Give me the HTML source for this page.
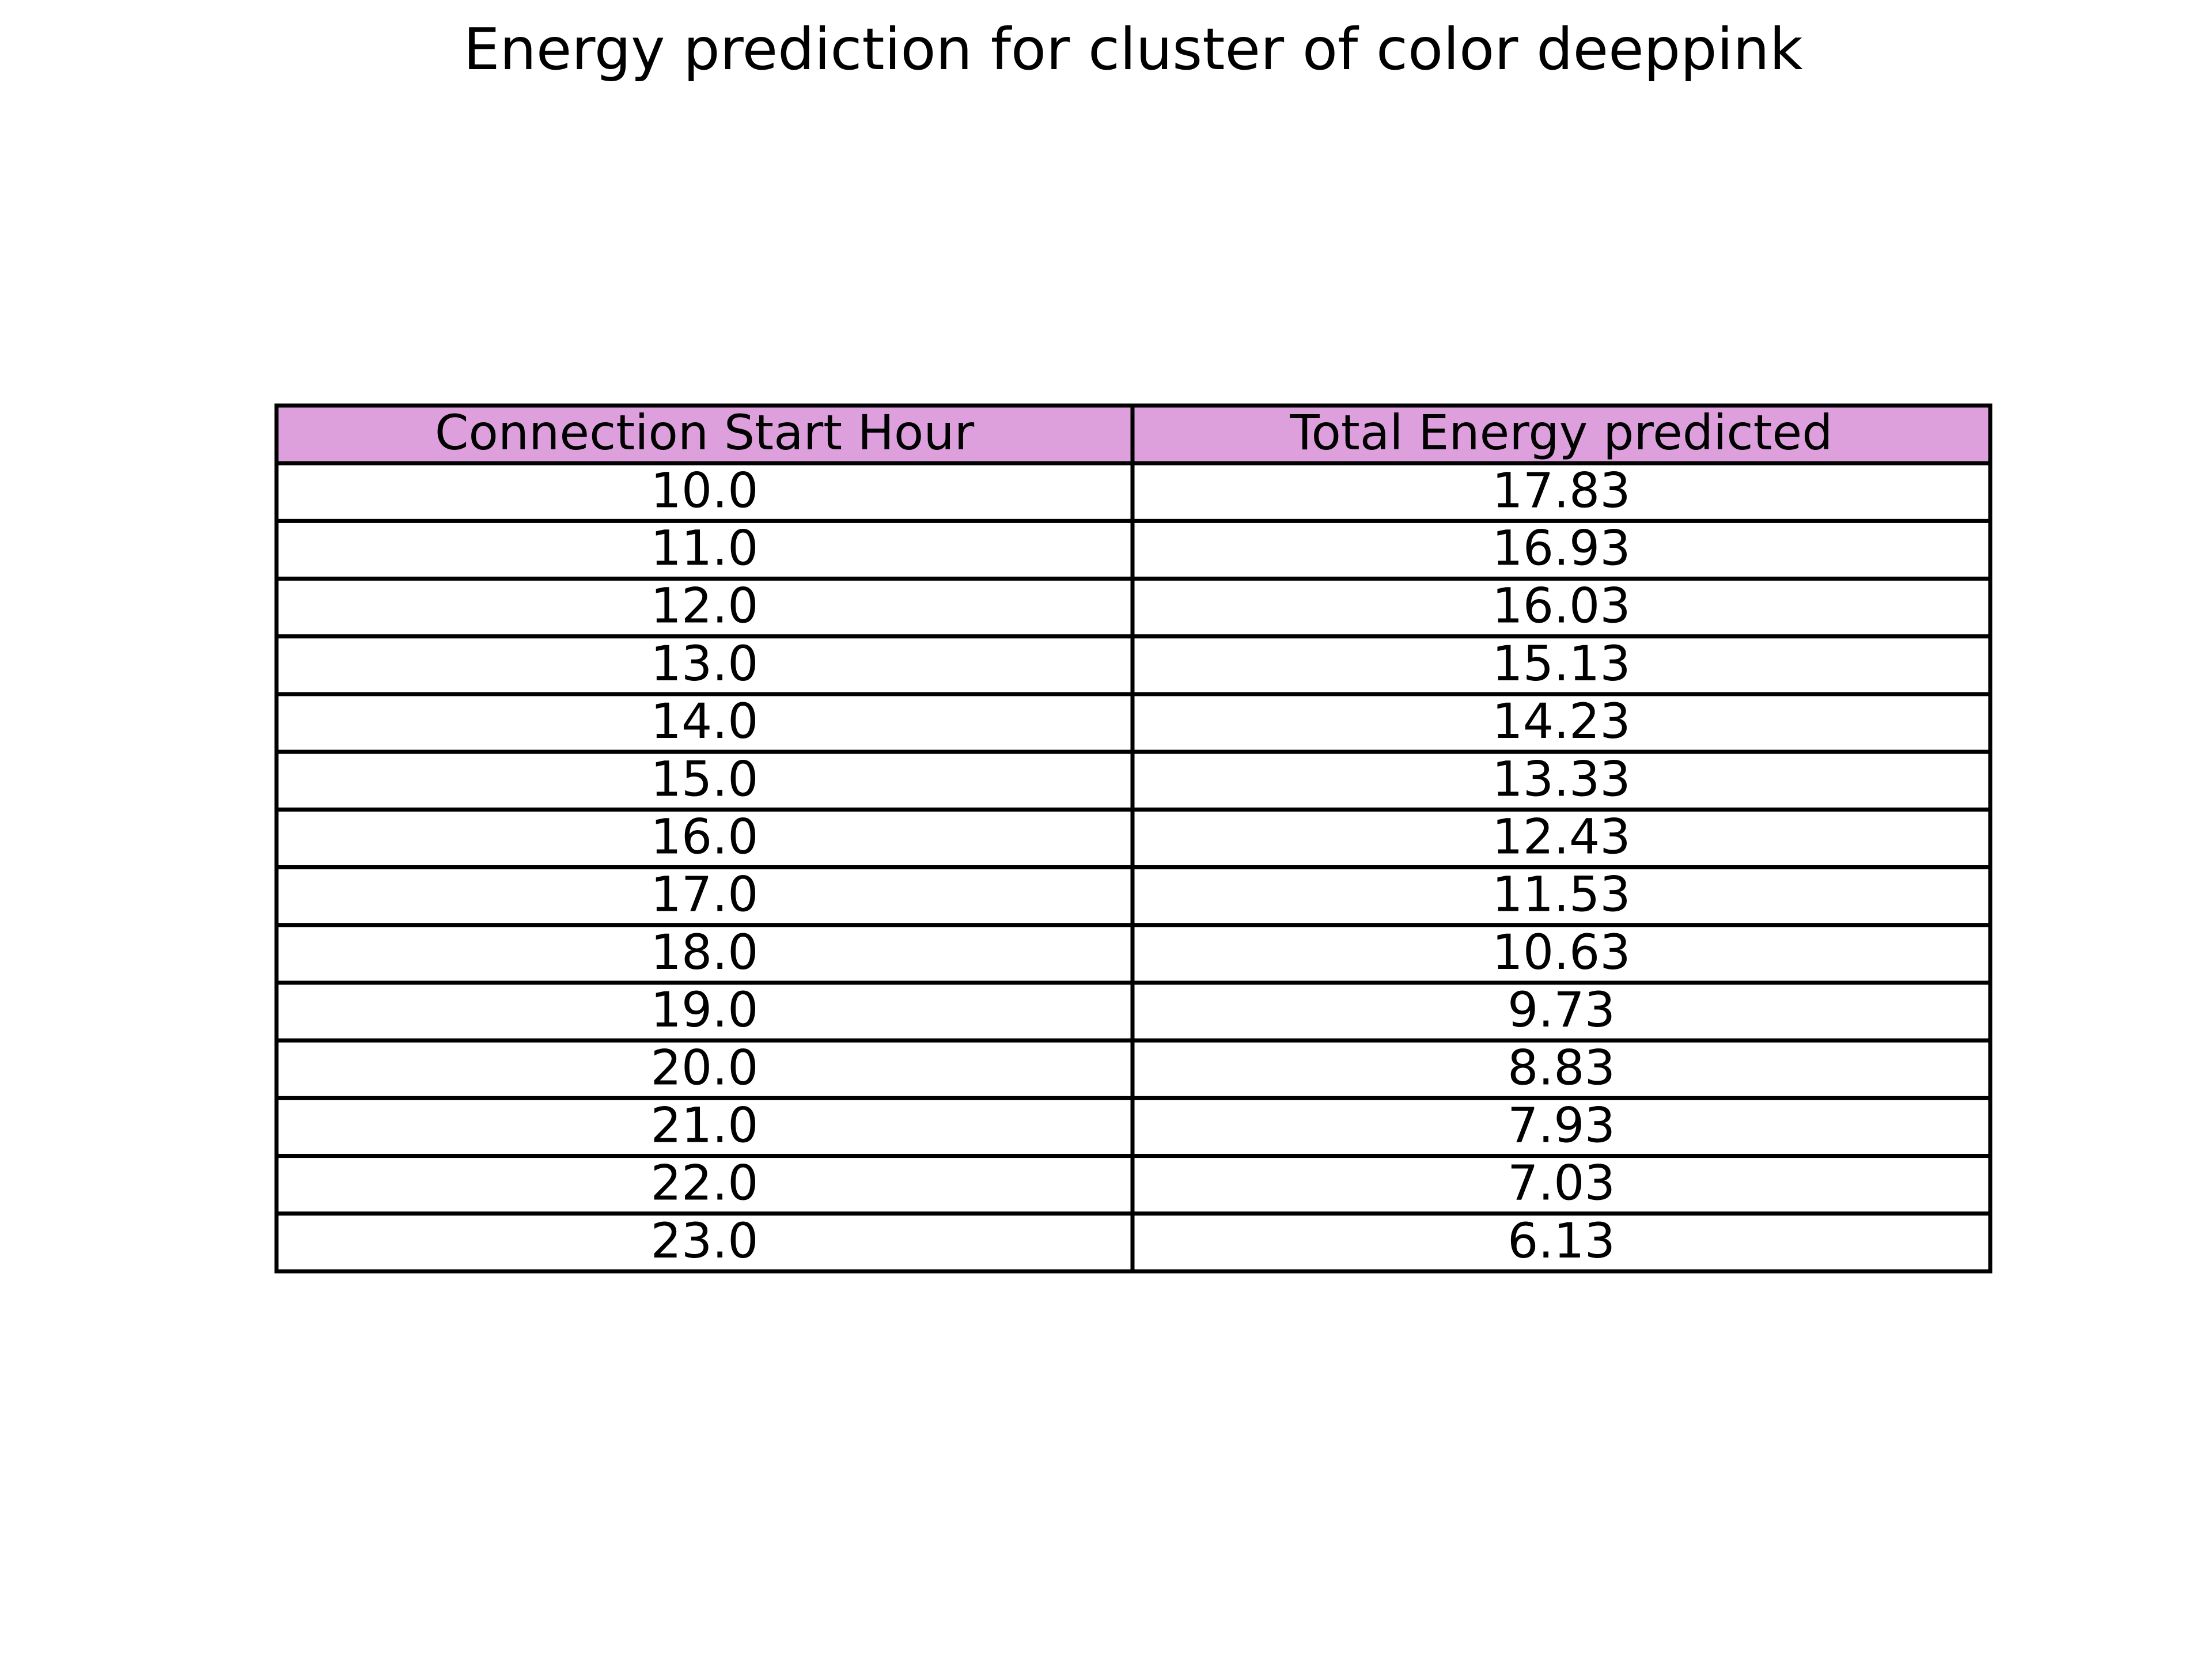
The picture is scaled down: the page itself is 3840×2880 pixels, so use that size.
<!DOCTYPE html>
<html><head><meta charset="utf-8"><style>
html,body{margin:0;padding:0;background:#fff}
svg{display:block}
text{font-family:"DejaVu Sans","Liberation Sans",sans-serif;fill:#000}
</style></head><body>
<svg id="chart" width="3840" height="2880" viewBox="0 0 3840 2880" xmlns="http://www.w3.org/2000/svg">
<rect width="3840" height="2880" fill="#fff"/>
<text x="1967" y="120" font-size="100" text-anchor="middle">Energy prediction for cluster of color deeppink</text>
<g id="tbl"></g>
</svg>
<script>
const headers = ["Connection Start Hour", "Total Energy predicted"];
const hours = ["10.0","11.0","12.0","13.0","14.0","15.0","16.0","17.0","18.0","19.0","20.0","21.0","22.0","23.0"];
const energy = ["17.83","16.93","16.03","15.13","14.23","13.33","12.43","11.53","10.63","9.73","8.83","7.93","7.03","6.13"];

const NS = "http://www.w3.org/2000/svg";
const g = document.getElementById('tbl');
const left = 480, mid = 1966, right = 3455, top0 = 704, rowH = 100.2;
const colX = [left, mid, right];
function mk(tag, attrs){const e=document.createElementNS(NS,tag);for(const k in attrs)e.setAttribute(k,attrs[k]);return e;}
const rows = [headers].concat(hours.map((h,i)=>[h, energy[i]]));
rows.forEach((r, ri) => {
  const y = top0 + ri * rowH;
  r.forEach((val, ci) => {
    const x0 = colX[ci], x1 = colX[ci+1];
    const rect = mk('rect',{x:x0,y:y,width:x1-x0,height:rowH,fill:ri===0?'#dda0dd':'#fff',stroke:'#000','stroke-width':7});
    
    
    g.appendChild(rect);
  });
});
rows.forEach((r, ri) => {
  const y = top0 + ri * rowH;
  r.forEach((val, ci) => {
    const x0 = colX[ci], x1 = colX[ci+1];
    const t = mk('text',{x:(x0+x1)/2,y:y+rowH/2+26,'font-size':84,'text-anchor':'middle'});
    t.textContent = val;
    
    
    g.appendChild(t);
  });
});
</script>
</body></html>
